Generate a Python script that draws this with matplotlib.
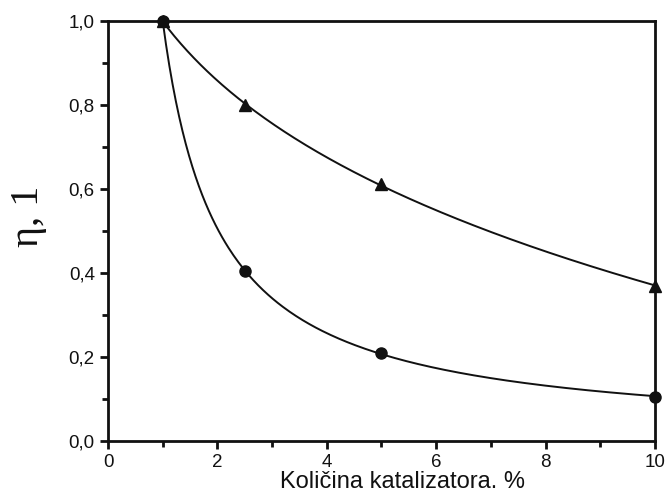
import numpy as np
import matplotlib
matplotlib.use("Agg")
import matplotlib.pyplot as plt
from matplotlib.ticker import MultipleLocator, FuncFormatter

# catalyst amount, %
x_pts = [1.0, 2.5, 5.0, 10.0]
tri_vals = [1.0, 0.80, 0.612, 0.369]
circ_vals = [1.0, 0.405, 0.21, 0.105]

plt.rcParams["font.family"] = ["Liberation Sans", "DejaVu Sans"]

fig = plt.figure(figsize=(6.68, 4.95), dpi=100)
ax = fig.add_axes([0.1617, 0.109, 0.8188, 0.8486])

xs = np.linspace(1, 10, 300)
# smooth fitted curves through the measured points
p_tri = np.polyfit(np.log(x_pts), tri_vals, 2)
p_circ = np.polyfit(1 / np.array(x_pts), circ_vals, 2)
ax.plot(xs, np.polyval(p_tri, np.log(xs)), color="#111111", lw=1.4, zorder=2)
ax.plot(xs, np.polyval(p_circ, 1 / xs), color="#111111", lw=1.4, zorder=2)

ax.plot(x_pts, tri_vals, "^", color="#111111", ms=8, ls="none", zorder=3, clip_on=False)
ax.plot(x_pts, circ_vals, "o", color="#111111", ms=8, ls="none", zorder=3, clip_on=False)

ax.set_xlim(0, 10)
ax.set_ylim(0, 1.0)
ax.xaxis.set_major_locator(MultipleLocator(2))
ax.xaxis.set_minor_locator(MultipleLocator(1))
ax.yaxis.set_major_locator(MultipleLocator(0.2))
ax.yaxis.set_minor_locator(MultipleLocator(0.1))
ax.yaxis.set_major_formatter(FuncFormatter(lambda v, p: f"{v:.1f}".replace(".", ",")))

for s in ax.spines.values():
    s.set_linewidth(2)
    s.set_color("#111111")
ax.tick_params(which="major", direction="out", length=6, width=2, labelsize=13.5,
               color="#111111", labelcolor="#111111")
ax.tick_params(which="minor", direction="out", length=4, width=2, color="#111111")
ax.tick_params(axis="x", pad=3)

fig.text(0.602, 0.014, "Količina katalizatora. %", fontsize=17, color="#111111",
         ha="center", va="baseline")
fig.text(0.042, 0.562, "η, 1", fontsize=29, family=["Liberation Serif", "DejaVu Serif"],
         color="#111111", rotation=90, ha="center", va="center")

fig.savefig("out.png", dpi=100)
plt.close(fig)
